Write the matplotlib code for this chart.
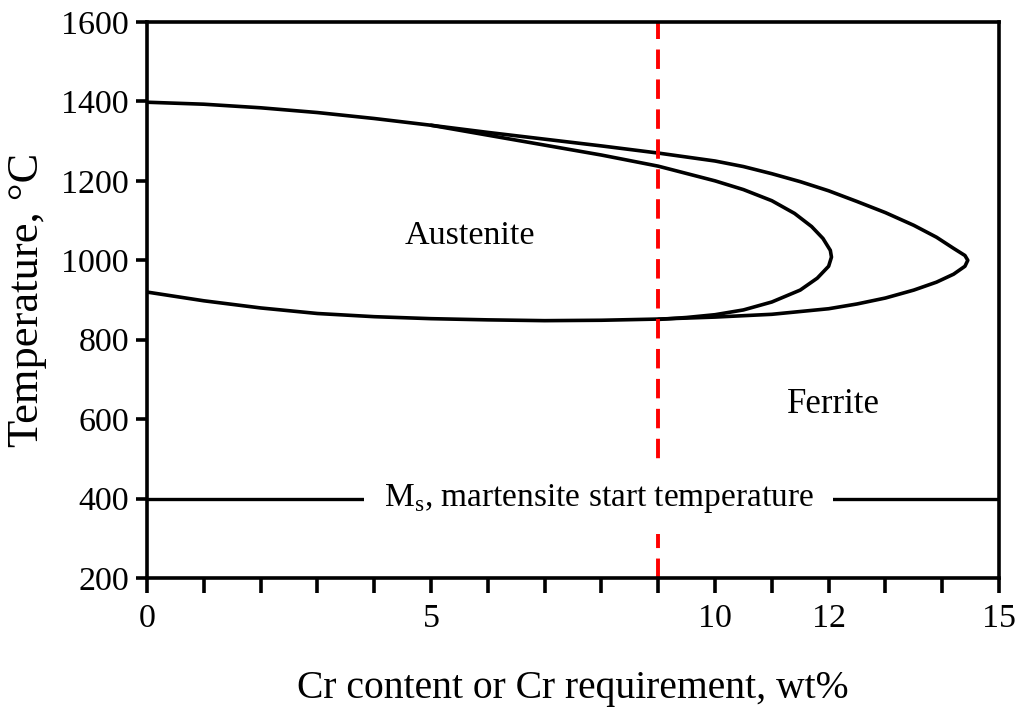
import matplotlib.pyplot as plt

plt.rcParams['font.family'] = ['Liberation Serif', 'DejaVu Serif']

# outer loop (upper branch out to the nose, lower branch back to x=0)
outer_x = [0, 1, 2, 3, 4, 5, 6, 7, 8, 9, 10, 10.5, 11, 11.5, 12, 12.5, 13, 13.5, 13.9, 14.2, 14.4, 14.45,
           14.4, 14.2, 13.9, 13.5, 13, 12.5, 12, 11, 10, 9, 8, 7, 6, 5, 4, 3, 2, 1, 0]
outer_t = [1398, 1393, 1384, 1372, 1357, 1340, 1322, 1305, 1288, 1270, 1250, 1236, 1218, 1198, 1175, 1148, 1120, 1088, 1058, 1030, 1012, 1000,
           985, 965, 945, 925, 905, 890, 878, 864, 857, 852, 849, 848, 850, 853, 858, 866, 880, 898, 920]

# inner loop (splits from the outer one near x=5, rejoins near x=9)
inner_x = [5, 6, 7, 8, 9, 10, 10.5, 11, 11.4, 11.7, 11.9, 12.03, 12.05, 12.0, 11.8, 11.5, 11, 10.5, 10, 9.5, 9]
inner_t = [1340, 1315, 1290, 1265, 1237, 1200, 1178, 1150, 1118, 1085, 1055, 1025, 1008, 985, 955, 925, 895, 875, 863, 856, 851]

ms_temp = 400
cr_mark = 9
xticks = list(range(0, 16))
xtick_labels = ['0', '', '', '', '', '5', '', '', '', '', '10', '', '12', '', '', '15']
yticks = [200, 400, 600, 800, 1000, 1200, 1400, 1600]

fig = plt.figure(figsize=(10.19, 7.12), dpi=100)
ax = fig.add_axes([0.1443, 0.1882, 0.8361, 0.7809])

ax.plot(outer_x, outer_t, color='black', lw=2.6, solid_joinstyle='round', solid_capstyle='round')
ax.plot(inner_x, inner_t, color='black', lw=2.6, solid_joinstyle='round', solid_capstyle='round')

ax.axvline(cr_mark, color='red', lw=2.8, ls=(0, (5, 2.7)))

ax.axhline(ms_temp, color='black', lw=2.4)
ax.text(7.95, ms_temp, r'M$_\mathregular{s}$, martensite start temperature', fontsize=24,
        ha='center', va='center',
        bbox=dict(facecolor='white', edgecolor='none', pad=14))

ax.text(5.68, 1062, 'Austenite', fontsize=24.5, ha='center', va='center')
ax.text(12.08, 636, 'Ferrite', fontsize=25, ha='center', va='center')

ax.set_xlim(0, 15)
ax.set_ylim(200, 1600)
ax.set_xticks(xticks)
ax.set_xticklabels(xtick_labels)
ax.set_yticks(yticks)

for s in ax.spines.values():
    s.set_linewidth(2.6)
ax.tick_params(axis='x', direction='out', length=11, width=2.6, labelsize=24.5, pad=7)
ax.tick_params(axis='y', direction='out', length=8, width=2.6, labelsize=24.5, pad=5)

ax.set_xlabel('Cr content or Cr requirement, wt%', fontsize=28.5, labelpad=26)
ax.set_ylabel('Temperature, \u00b0C', fontsize=32, labelpad=10)

fig.savefig('out.png', dpi=100)
